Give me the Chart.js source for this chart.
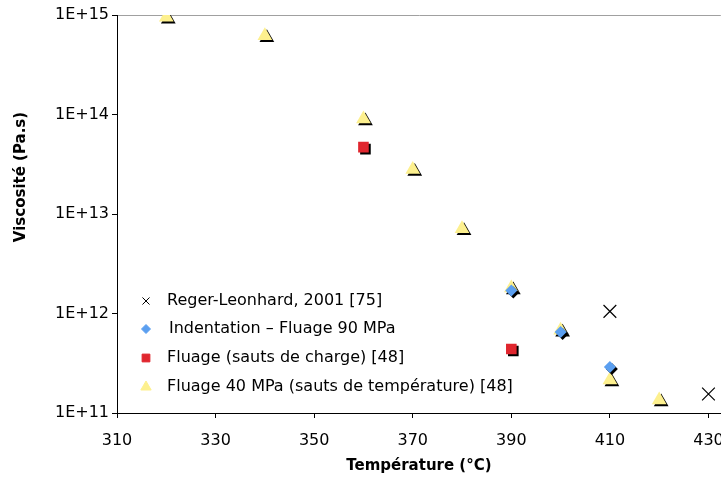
<!DOCTYPE html>
<html>
<head>
<meta charset="utf-8">
<script src="https://cdn.jsdelivr.net/npm/chart.js@4.4.1/dist/chart.umd.min.js"></script>
<style>
  html, body { margin: 0; padding: 0; background: #fff; overflow: hidden; }
  #wrap { width: 721px; height: 477px; position: relative; overflow: hidden; }
  #chart { display: block; }
</style>
</head>
<body>
<div id="wrap"><canvas id="chart" width="731" height="477"></canvas></div>
<script>
// temperatures (°C) and viscosities (Pa.s)
const regerTemps = [410, 430]
const regerVisc = [1.05e12, 1.55e11]

const indentTemps = [390, 400, 410]
const indentVisc = [1.7e12, 6.5e11, 2.9e11]

const chargeTemps = [360, 390]
const chargeVisc = [4.7e13, 4.4e11]

const tempJumpTemps = [320, 340, 360, 370, 380, 390, 400, 410, 420]
const tempJumpVisc = [9.5e14, 6.2e14, 9.0e13, 2.8e13, 7.1e12, 1.8e12, 6.8e11, 2.15e11, 1.35e11]

const seriesLabels = [
    "Reger-Leonhard, 2001 [75]",
    "Indentation \u2013 Fluage 90 MPa",
    "Fluage (sauts de charge) [48]",
    "Fluage 40 MPa (sauts de température) [48]"
]

const xTicks = [310, 330, 350, 370, 390, 410, 430]
const yTicks = [1e11, 1e12, 1e13, 1e14, 1e15]

const yTitle = 'Viscosité (Pa.s)'

const FONT = "'DejaVu Sans', Verdana, sans-serif"

function toPoints(xs, ys) {
    return xs.map((x, i) => ({ x: x, y: ys[i] }))
}

// black drop shadow under the filled markers
const shadowPlugin = {
    id: 'markerShadow',
    beforeDatasetDraw(chart, args) {
        const ds = chart.data.datasets[args.index]
        const ctx = chart.ctx
        ctx.save()
        if (ds.shadow) {
            ctx.shadowColor = '#000'
            ctx.shadowOffsetX = 2
            ctx.shadowOffsetY = 2
            ctx.shadowBlur = 0
        }
    },
    afterDatasetDraw(chart) {
        chart.ctx.restore()
    }
}

// y title sits a bit above the middle in the original, so draw it by hand
const yTitlePlugin = {
    id: 'yTitle',
    afterDraw(chart) {
        const ctx = chart.ctx
        ctx.save()
        ctx.translate(21, 177)
        ctx.rotate(-Math.PI / 2)
        ctx.font = 'bold 15px ' + FONT
        ctx.fillStyle = '#000'
        ctx.textAlign = 'center'
        ctx.textBaseline = 'middle'
        ctx.fillText(yTitle, 0, 0)
        ctx.restore()
    }
}

// legend sitting inside the plot, bottom left
const insideLegend = {
    id: 'insideLegend',
    afterDraw(chart) {
        const ctx = chart.ctx
        const rows = [301, 329, 358, 387]
        const sizes = [5, 4.5, 5.5, 6]
        ctx.save()
        chart.data.datasets.forEach((ds, i) => {
            const y = rows[i]
            ctx.fillStyle = ds.backgroundColor
            ctx.strokeStyle = ds.borderColor
            ctx.lineWidth = ds.pointStyle === 'crossRot' ? 1 : 0
            Chart.helpers.drawPoint(ctx, {
                pointStyle: ds.pointStyle,
                radius: sizes[i],
                borderWidth: ctx.lineWidth,
                rotation: 0
            }, 146, y)
            ctx.fillStyle = '#000'
            ctx.font = '16px ' + FONT
            ctx.textBaseline = 'middle'
            ctx.fillText(ds.label, i === 1 ? 169 : 167, y)
        })
        ctx.restore()
    }
}

const chart = new Chart(document.getElementById('chart'), {
    type: 'scatter',
    data: {
        datasets: [
            {
                label: seriesLabels[0],
                data: toPoints(regerTemps, regerVisc),
                pointStyle: 'crossRot',
                pointRadius: 9,
                pointBorderWidth: 1.2,
                borderColor: '#000',
                backgroundColor: '#000'
            },
            {
                label: seriesLabels[1],
                data: toPoints(indentTemps, indentVisc),
                pointStyle: 'rectRot',
                pointRadius: 6,
                pointBorderWidth: 0,
                borderColor: '#5b9ff0',
                backgroundColor: '#5b9ff0',
                shadow: true
            },
            {
                label: seriesLabels[2],
                data: toPoints(chargeTemps, chargeVisc),
                pointStyle: 'rect',
                pointRadius: 7.5,
                pointBorderWidth: 0,
                borderColor: '#e0262e',
                backgroundColor: '#e0262e',
                shadow: true
            },
            {
                label: seriesLabels[3],
                data: toPoints(tempJumpTemps, tempJumpVisc),
                pointStyle: 'triangle',
                pointRadius: 8.5,
                pointBorderWidth: 0,
                borderColor: '#fdf08e',
                backgroundColor: '#fdf08e',
                shadow: true
            }
        ]
    },
    options: {
        responsive: false,
        animation: false,
        layout: { padding: { top: 15, right: 0, left: 0, bottom: 0 } },
        plugins: {
            legend: { display: false },
            tooltip: { enabled: false }
        },
        scales: {
            x: {
                type: 'linear',
                min: 310,
                max: 432.5,
                afterBuildTicks: (scale) => { scale.ticks = xTicks.map(v => ({ value: v })) },
                afterFit: (scale) => {
                    scale.height = 64
                    scale.paddingLeft = 0
                    scale.paddingRight = 0
                },
                border: { color: '#000', width: 1 },
                grid: { drawOnChartArea: false, tickLength: 5, color: '#000' },
                ticks: {
                    color: '#000',
                    font: { family: FONT, size: 16 },
                    padding: 13,
                    maxRotation: 0
                },
                title: {
                    display: true,
                    text: 'Température (°C)',
                    color: '#000',
                    font: { family: FONT, size: 15, weight: 'bold' },
                    padding: { top: 4, bottom: 2 }
                }
            },
            y: {
                type: 'logarithmic',
                min: 1e11,
                max: 1e15,
                afterBuildTicks: (scale) => { scale.ticks = yTicks.map(v => ({ value: v })) },
                afterFit: (scale) => {
                    scale.width = 117
                    scale.paddingTop = 0
                    scale.paddingBottom = 0
                },
                border: { color: '#000', width: 1 },
                grid: {
                    tickLength: 5,
                    drawOnChartArea: true,
                    color: (c) => c.tick && c.tick.value === 1e15 ? '#a0a0a0' : 'rgba(0,0,0,0)',
                    tickColor: '#000'
                },
                ticks: {
                    color: '#000',
                    font: { family: FONT, size: 16 },
                    padding: 3,
                    callback: (v) => '1E+' + Math.round(Math.log10(v))
                },
                title: { display: false }
            }
        }
    },
    plugins: [shadowPlugin, insideLegend, yTitlePlugin]
})
</script>
</body>
</html>
